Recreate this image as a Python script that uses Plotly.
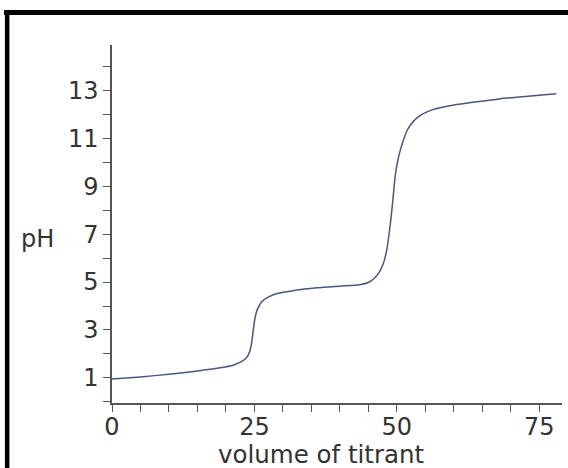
import plotly.graph_objects as go

# Data (volume of titrant vs pH)
volume = [0, 5, 10, 15, 19, 21.5, 23, 23.8, 24.4, 24.8, 25.1, 25.5, 26.3, 27.5, 29, 32, 36, 40,
          43.5, 45, 46, 46.8, 47.6, 48.2, 48.8, 49.3, 49.7, 50.2, 50.6, 51.2, 51.8, 52.6, 53.6,
          55.5, 59, 63, 68, 73, 78]
ph = [0.95, 1.04, 1.15, 1.29, 1.42, 1.55, 1.72, 1.9, 2.3, 3.0, 3.5, 3.85, 4.18, 4.38, 4.52, 4.65,
      4.76, 4.83, 4.89, 4.98, 5.15, 5.36, 5.75, 6.3, 7.3, 8.4, 9.4, 10.1, 10.5, 10.95, 11.33, 11.62,
      11.87, 12.13, 12.35, 12.5, 12.65, 12.76, 12.86]

y_tick_vals = list(range(0, 15))
y_tick_text = [str(v) if v % 2 == 1 else "" for v in y_tick_vals]
x_tick_vals = list(range(0, 80, 5))
x_tick_text = [str(v) if v % 25 == 0 else "" for v in x_tick_vals]

x_title = "volume of titrant"
y_title = "pH"

FONT = "DejaVu Sans"
TXT = "#333333"
AX = "#555555"

fig = go.Figure()
fig.add_trace(go.Scatter(
    x=volume, y=ph, mode="lines",
    line=dict(color="#4a5682", width=1.5, shape="spline", smoothing=0.6),
    hoverinfo="skip", showlegend=False,
))

fig.update_layout(
    width=568, height=468,
    margin=dict(l=112, r=6, t=45, b=65),
    paper_bgcolor="white", plot_bgcolor="white",
    font=dict(family=FONT, size=24, color=TXT),
    xaxis=dict(
        range=[0, 79], showgrid=False, zeroline=False,
        showline=True, linecolor=AX, linewidth=1.5,
        ticks="outside", ticklen=7, tickcolor=AX, tickwidth=1.2,
        tickvals=x_tick_vals, ticktext=x_tick_text,
        ticklabelstandoff=-6,
        tickfont=dict(family=FONT, size=24, color=TXT),
    ),
    yaxis=dict(
        range=[-0.05, 14.9], showgrid=False, zeroline=False,
        showline=True, linecolor=AX, linewidth=1.5,
        ticks="outside", ticklen=7, tickcolor=AX, tickwidth=1.2,
        tickvals=y_tick_vals, ticktext=y_tick_text,
        tickfont=dict(family=FONT, size=24, color=TXT),
    ),
    annotations=[
        dict(text=y_title, xref="paper", yref="y", x=-0.207, y=6.8,
             xanchor="left", yanchor="middle", showarrow=False,
             font=dict(family=FONT, size=24, color=TXT)),
        dict(text=x_title, xref="paper", yref="paper", x=0.465, y=-0.143,
             xanchor="center", yanchor="middle", showarrow=False,
             font=dict(family=FONT, size=24.5, color=TXT)),
    ],
    shapes=[
        dict(type="line", xref="paper", yref="paper", x0=-0.24, x1=1.05,
             y0=1.0908, y1=1.0908, line=dict(color="black", width=5)),
        dict(type="line", xref="paper", yref="paper", x0=-0.2330, x1=-0.2330,
             y0=1.097, y1=-0.2, line=dict(color="black", width=4.5)),
    ],
)

fig.write_html("out.html")
